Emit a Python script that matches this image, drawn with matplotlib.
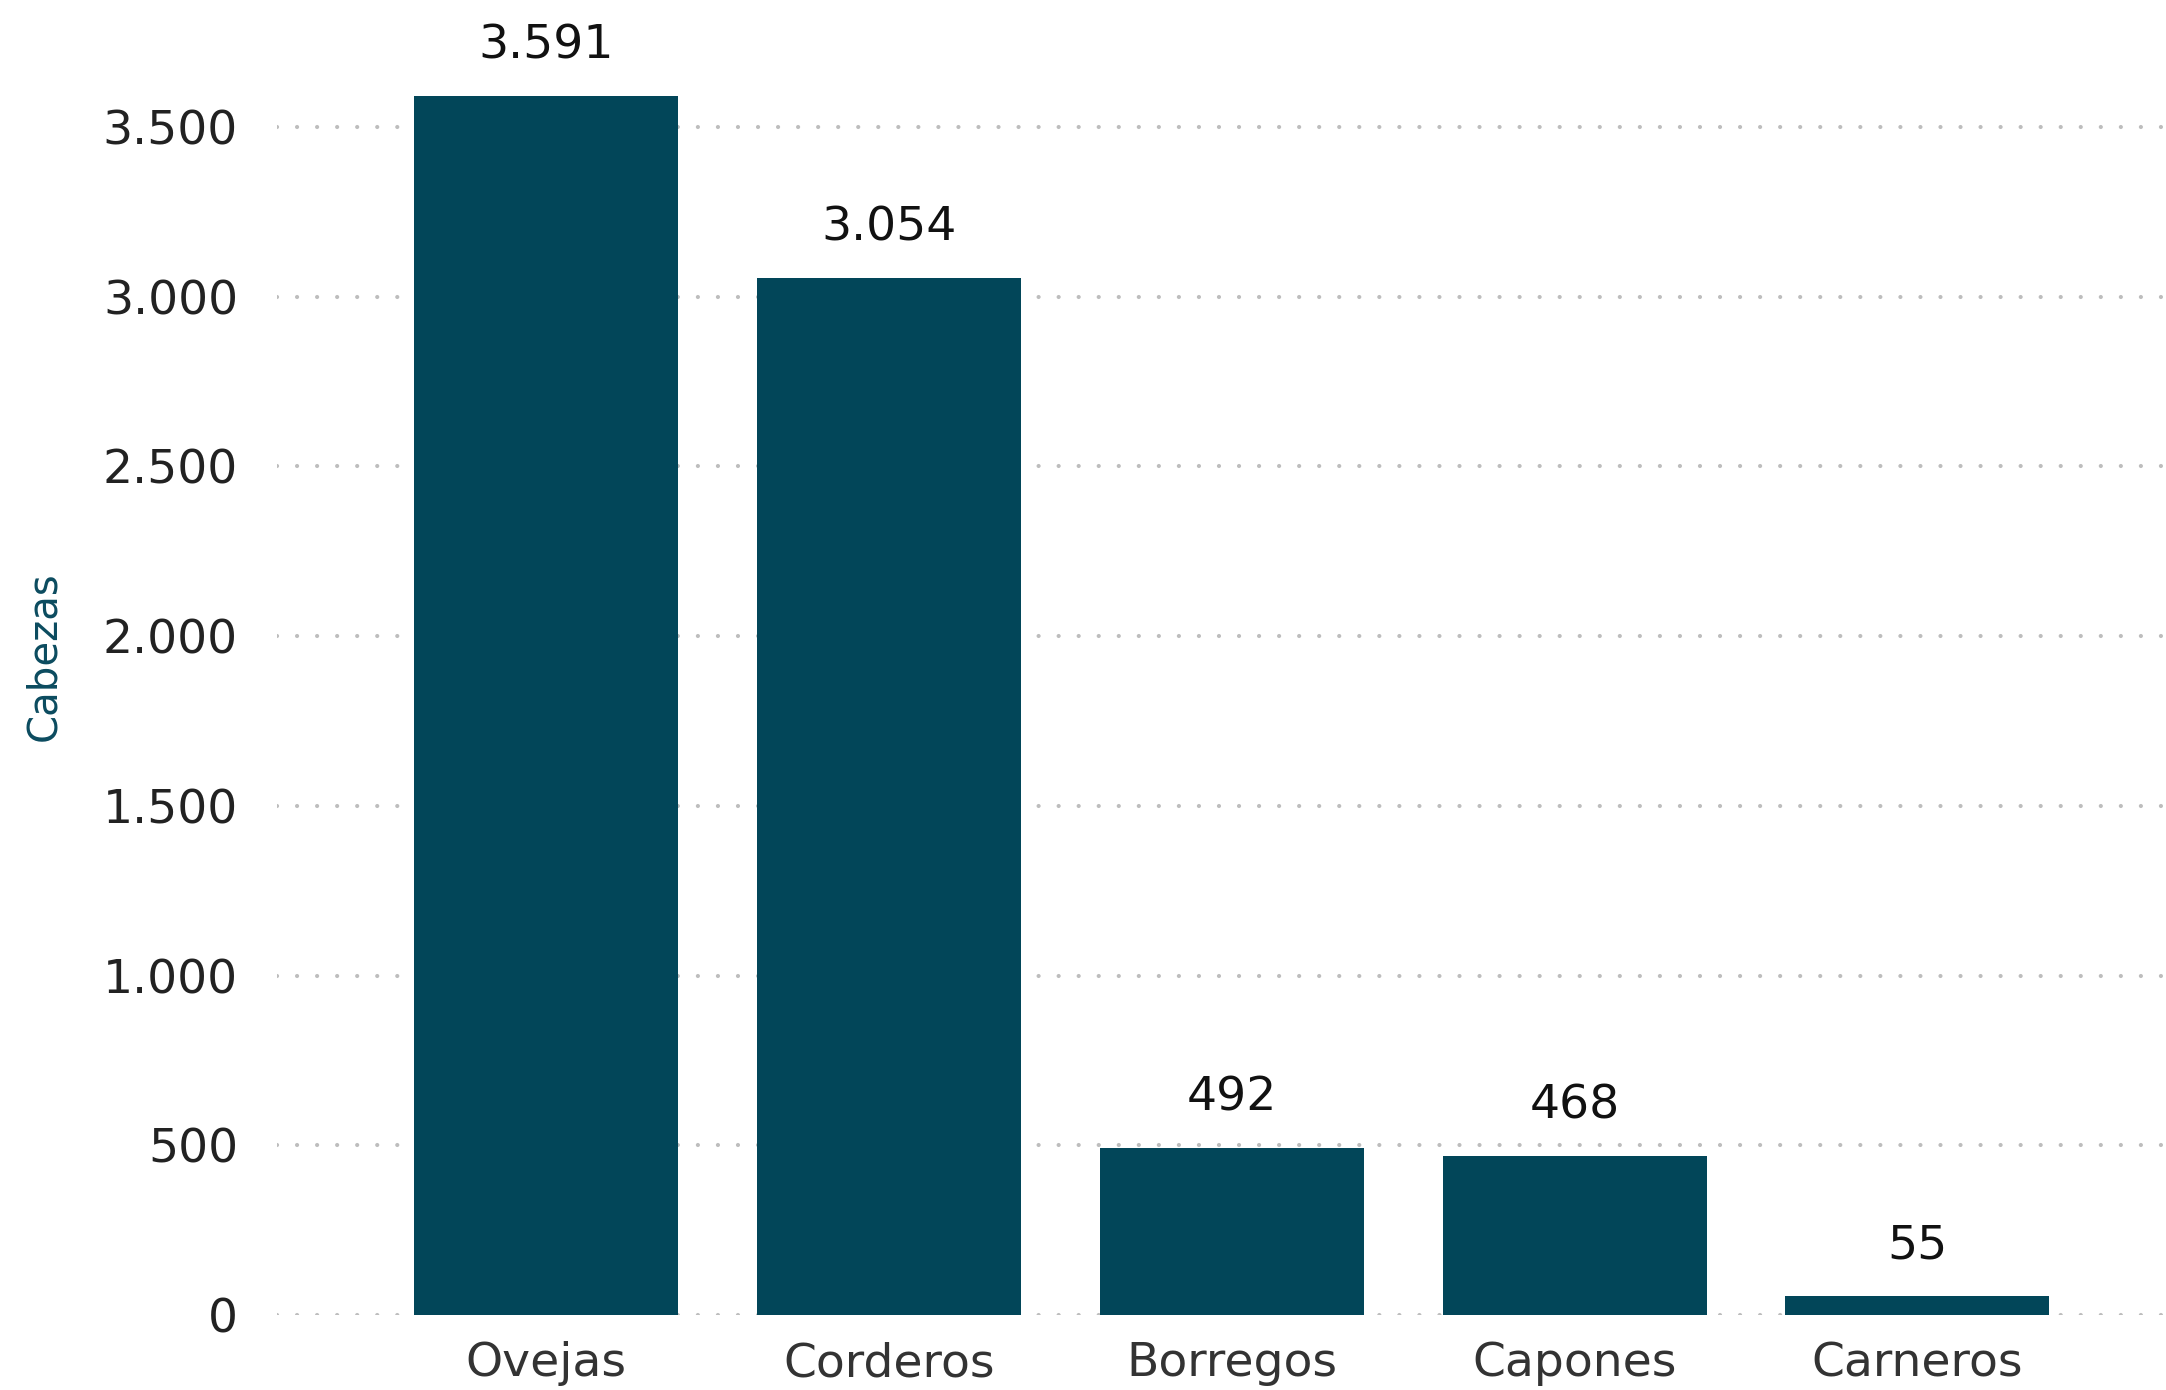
import matplotlib.pyplot as plt
from matplotlib.ticker import FuncFormatter

# cabezas por categoria
categorias = ["Ovejas", "Corderos", "Borregos", "Capones", "Carneros"]
cabezas = [3591, 3054, 492, 468, 55]
yticks = [0, 500, 1000, 1500, 2000, 2500, 3000, 3500]

color_barra = "#024659"


def miles(v, pos=None):
    return f"{int(v):,}".replace(",", ".")


plt.rcParams["font.family"] = ["DejaVu Sans"]

fig = plt.figure(figsize=(21.66, 13.90), dpi=100)
ax = fig.add_axes([277 / 2166, 1 - 1315 / 1390, 1 - 277 / 2166, 1315 / 1390])

x = range(len(categorias))
ax.bar(x, cabezas, width=0.77, color=color_barra, zorder=2)

for xi, v in zip(x, cabezas):
    ax.annotate(miles(v), (xi, v), xytext=(0, 20), textcoords="offset points",
                ha="center", va="bottom", fontsize=34, color="#111111")

ax.set_xlim(-0.785, 4.725)
ax.set_ylim(0, 3874)
ax.set_yticks(yticks)
ax.yaxis.set_major_formatter(FuncFormatter(miles))
ax.set_xticks(list(x), categorias)

ax.tick_params(axis="y", length=0, pad=28, labelsize=34, labelcolor="#222222")
ax.tick_params(axis="x", length=0, pad=19, labelsize=34, labelcolor="#333333")

ax.grid(axis="y", color="#bdbdbd", linewidth=3, linestyle=(0, (0.01, 4.8)),
        dash_capstyle="round", zorder=0)
ax.set_axisbelow(True)
for s in ax.spines.values():
    s.set_visible(False)

fig.text(44 / 2166, 1 - 656 / 1390, "Cabezas", rotation=90, ha="center", va="center",
         fontsize=29, color="#0b4b5f")

fig.savefig("out.png", dpi=100)
